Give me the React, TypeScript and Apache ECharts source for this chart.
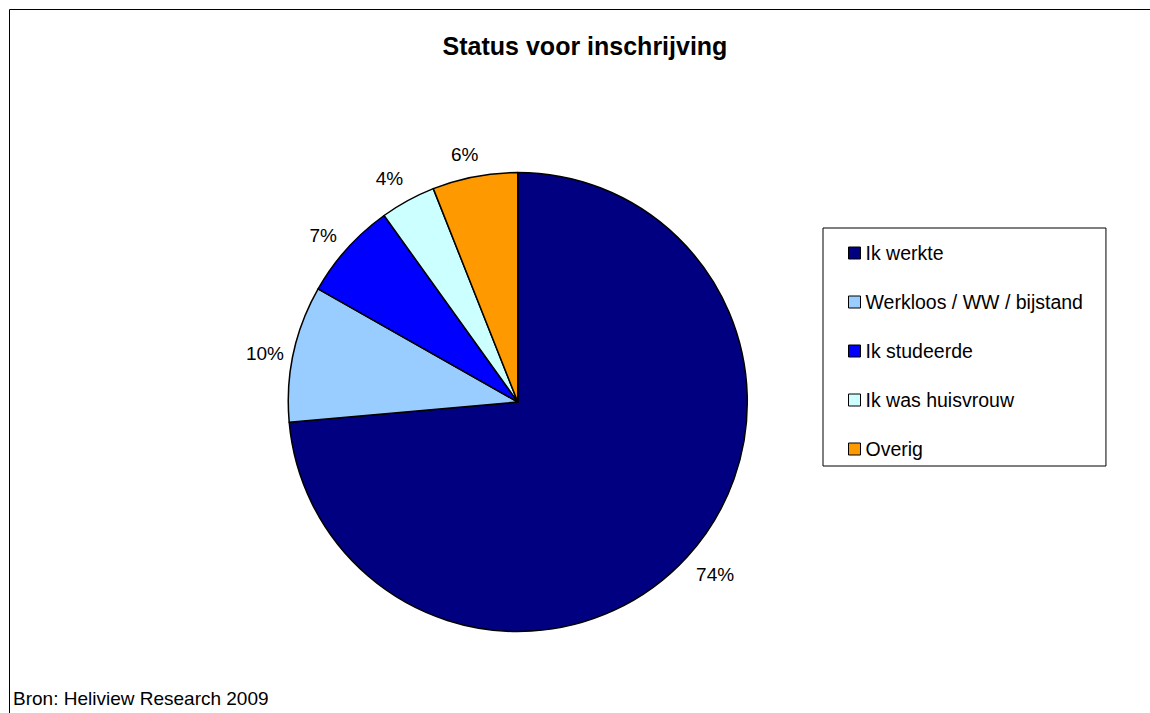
import React, { useEffect, useRef } from "react";
import * as echarts from "echarts";

const title = "Status voor inschrijving";
const source = "Bron: Heliview Research 2009";
const categories = [
  "Ik werkte",
  "Werkloos / WW / bijstand",
  "Ik studeerde",
  "Ik was huisvrouw",
  "Overig",
];
const values = [73.6, 9.6, 6.9, 3.9, 6.0];
const colors = ["#000080", "#99CCFF", "#0000FF", "#CCFFFF", "#FF9900"];
const labelGap = [33, 28, 27, 28, 24];

const FONT = "'Liberation Sans', Arial, Helvetica, sans-serif";
const CX = 517.8;
const CY = 402;
const LABEL_TURN = -1.3 * Math.PI / 180;

export default function App() {
  const ref = useRef<HTMLDivElement>(null);
  useEffect(() => {
    if (!ref.current) return;
    const chart = echarts.init(ref.current, null, { renderer: "svg" });
    const data = categories.map((name, i) => ({
      name,
      value: values[i],
      itemStyle: { color: colors[i] },
      labelLine: { length: labelGap[i], length2: 0 },
    }));
    chart.setOption({
      animation: false,
      backgroundColor: "#fff",
      title: {
        text: title,
        left: 585,
        textAlign: "center",
        top: 33,
        padding: 0,
        textStyle: { fontFamily: FONT, fontSize: 25, fontWeight: "bold", color: "#000", lineHeight: 25 },
      },
      legend: {
        orient: "vertical",
        left: 823,
        top: 228,
        padding: [15, 23, 7, 25],
        itemWidth: 12,
        itemHeight: 12,
        itemGap: 29,
        icon: "rect",
        borderColor: "#000",
        borderWidth: 1,
        selectedMode: false,
        itemStyle: { borderColor: "#000", borderWidth: 1 },
        textStyle: { fontFamily: FONT, fontSize: 19.5, color: "#000", lineHeight: 20 },
        data: categories,
      },
      graphic: [
        {
          type: "polyline",
          shape: { points: [[9.5, 2000], [9.5, 9.5], [2000, 9.5]] },
          style: { fill: "none", stroke: "#000", lineWidth: 1 },
          silent: true,
        },
        {
          type: "text",
          x: 13,
          y: 698,
          style: {
            text: source,
            fontFamily: FONT,
            fontSize: 19,
            fill: "#000",
            textVerticalAlign: "middle",
          },
          silent: true,
        },
      ],
      series: [
        {
          type: "pie",
          center: [CX, CY],
          radius: 229.5,
          startAngle: 90,
          clockwise: true,
          avoidLabelOverlap: false,
          itemStyle: { borderColor: "#000", borderWidth: 1.5 },
          emphasis: { disabled: true },
          label: {
            show: true,
            position: "outside",
            distanceToLabelLine: 0,
            fontFamily: FONT,
            fontSize: 19,
            color: "#000",
            formatter: (p: any) => Math.round(p.percent) + "%",
          },
          labelLine: { show: false },
          labelLayout: (p: any) => {
            const r = p.labelRect;
            const mx = r.x + r.width / 2 - CX;
            const my = r.y + r.height / 2 - CY;
            const dist = Math.sqrt(mx * mx + my * my) || 1;
            const sinT = mx / dist;
            const cosT = -my / dist;
            return {
              align: "center",
              verticalAlign: "middle",
              dx: 257 * LABEL_TURN * cosT,
              dy: 257 * LABEL_TURN * sinT,
            };
          },
          data,
        },
      ],
    });
    return () => chart.dispose();
  }, []);
  return (
    <div
      ref={ref}
      style={{ position: "fixed", left: 0, top: 0, width: 1150, height: 713, overflow: "hidden" }}
    />
  );
}
